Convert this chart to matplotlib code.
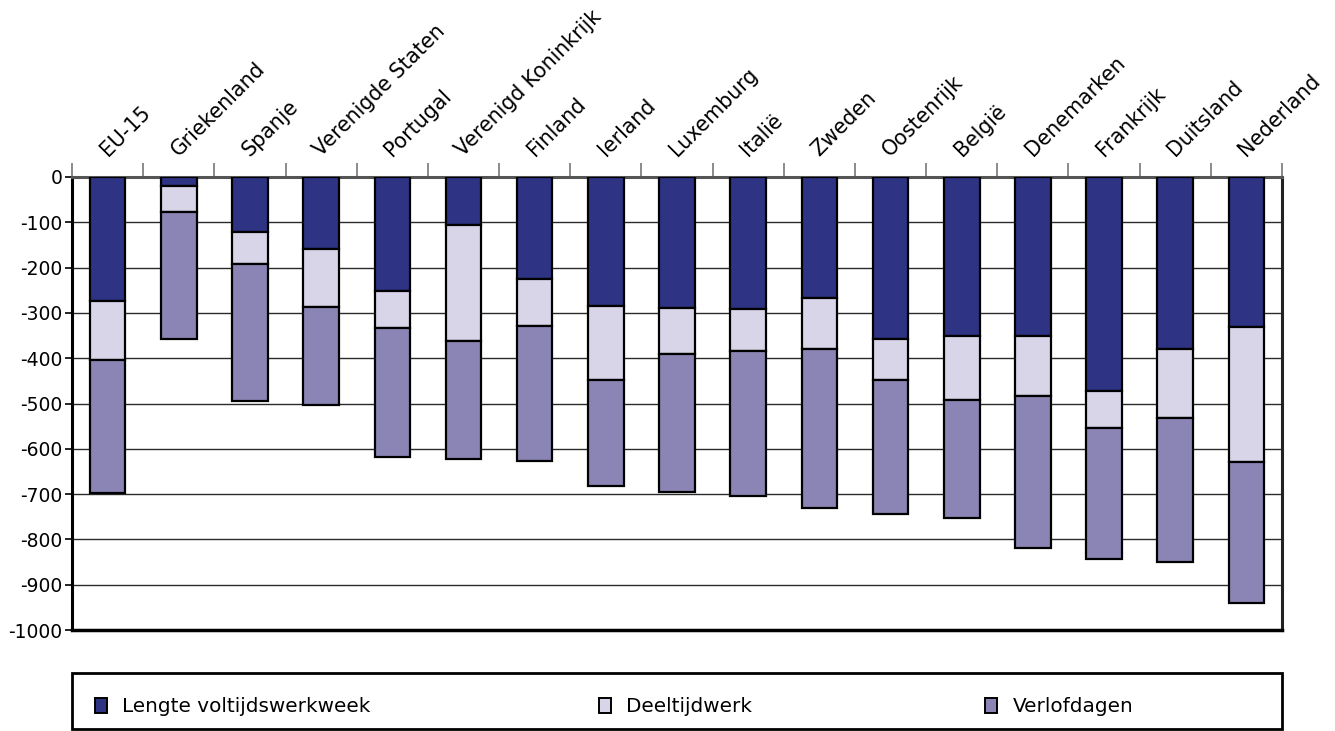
import matplotlib
matplotlib.use("Agg")
import matplotlib.pyplot as plt
from matplotlib.patches import Rectangle, Patch
import numpy as np

plt.rcParams['font.family'] = ['DejaVu Sans']

countries = ["EU-15", "Griekenland", "Spanje", "Verenigde Staten", "Portugal",
             "Verenigd Koninkrijk", "Finland", "Ierland", "Luxemburg", "Italië",
             "Zweden", "Oostenrijk", "België", "Denemarken", "Frankrijk",
             "Duitsland", "Nederland"]
voltijd = [-273, -19, -121, -158, -252, -107, -226, -285, -290, -292,
           -268, -357, -351, -351, -472, -380, -331]
deeltijd = [-130, -58, -72, -128, -81, -255, -103, -164, -100, -92,
            -111, -92, -141, -133, -82, -152, -298]
verlof = [-294, -280, -301, -218, -286, -261, -297, -233, -305, -320,
          -351, -296, -261, -335, -289, -317, -312]
series_names = ["Lengte voltijdswerkweek", "Deeltijdwerk", "Verlofdagen"]
colors = ["#2E3384", "#D9D5E8", "#8A85B4"]
yticks = list(range(0, -1001, -100))

W, H = 1335, 731
fig = plt.figure(figsize=(W / 100, H / 100), dpi=100)
L, R, T, B = 72, 1282, 177, 630
ax = fig.add_axes([L / W, 1 - B / H, (R - L) / W, (B - T) / H])

x = np.arange(len(countries))
v = np.array(voltijd)
d = np.array(deeltijd)
f = np.array(verlof)
ax.bar(x, v, width=0.5, color=colors[0], edgecolor="black", linewidth=1.6, zorder=3)
ax.bar(x, d, bottom=v, width=0.5, color=colors[1], edgecolor="black", linewidth=1.6, zorder=3)
ax.bar(x, f, bottom=v + d, width=0.5, color=colors[2], edgecolor="black", linewidth=1.6, zorder=3)

ax.set_xlim(-0.5, len(countries) - 0.5)
ax.set_ylim(-1000, 0)
ax.set_yticks(yticks)
ax.set_yticklabels([str(t) for t in yticks], fontsize=13.5)
ax.tick_params(axis='y', direction='out', length=5, width=1.2, pad=2)
for yv in yticks[1:-1]:
    ax.axhline(yv, color="#2a2a2a", linewidth=1.0, zorder=1)

# category boundary ticks on top
ax.xaxis.tick_top()
ax.set_xticks(np.arange(-0.5, len(countries), 1.0))
ax.set_xticklabels([])
ax.tick_params(axis='x', direction='out', length=10, width=1.2, color="#777777")

for i, name in enumerate(countries):
    ax.annotate(name, xy=(i, 1), xycoords=ax.get_xaxis_transform(),
                xytext=(0, 20), textcoords='offset pixels',
                rotation=45, rotation_mode='anchor', ha='left', va='baseline',
                fontsize=14.8, annotation_clip=False)

ax.spines['left'].set_linewidth(2.2)
ax.spines['left'].set_color('black')
ax.spines['bottom'].set_linewidth(2.5)
ax.spines['bottom'].set_color('black')
ax.spines['right'].set_linewidth(2.2)
ax.spines['right'].set_color('#222222')
ax.spines['top'].set_linewidth(2.2)
ax.spines['top'].set_color('#555555')

# legend frame
fig.patches.append(Rectangle((L / W, 1 - 729 / H), (R - L) / W, (729 - 673) / H,
                             transform=fig.transFigure, fill=False,
                             edgecolor='black', linewidth=2.0))
leg_x = [95, 599, 985]
for name, col, lx in zip(series_names, colors, leg_x):
    h = Patch(facecolor=col, edgecolor='black', linewidth=1.4)
    fig.legend(handles=[h], labels=[name], loc='center left',
               bbox_to_anchor=(lx / W, 1 - 707 / H), frameon=False,
               borderpad=0, borderaxespad=0, handlelength=0.62,
               handleheight=0.75, handletextpad=0.75, fontsize=14.4)

fig.savefig("out.png", dpi=100)
